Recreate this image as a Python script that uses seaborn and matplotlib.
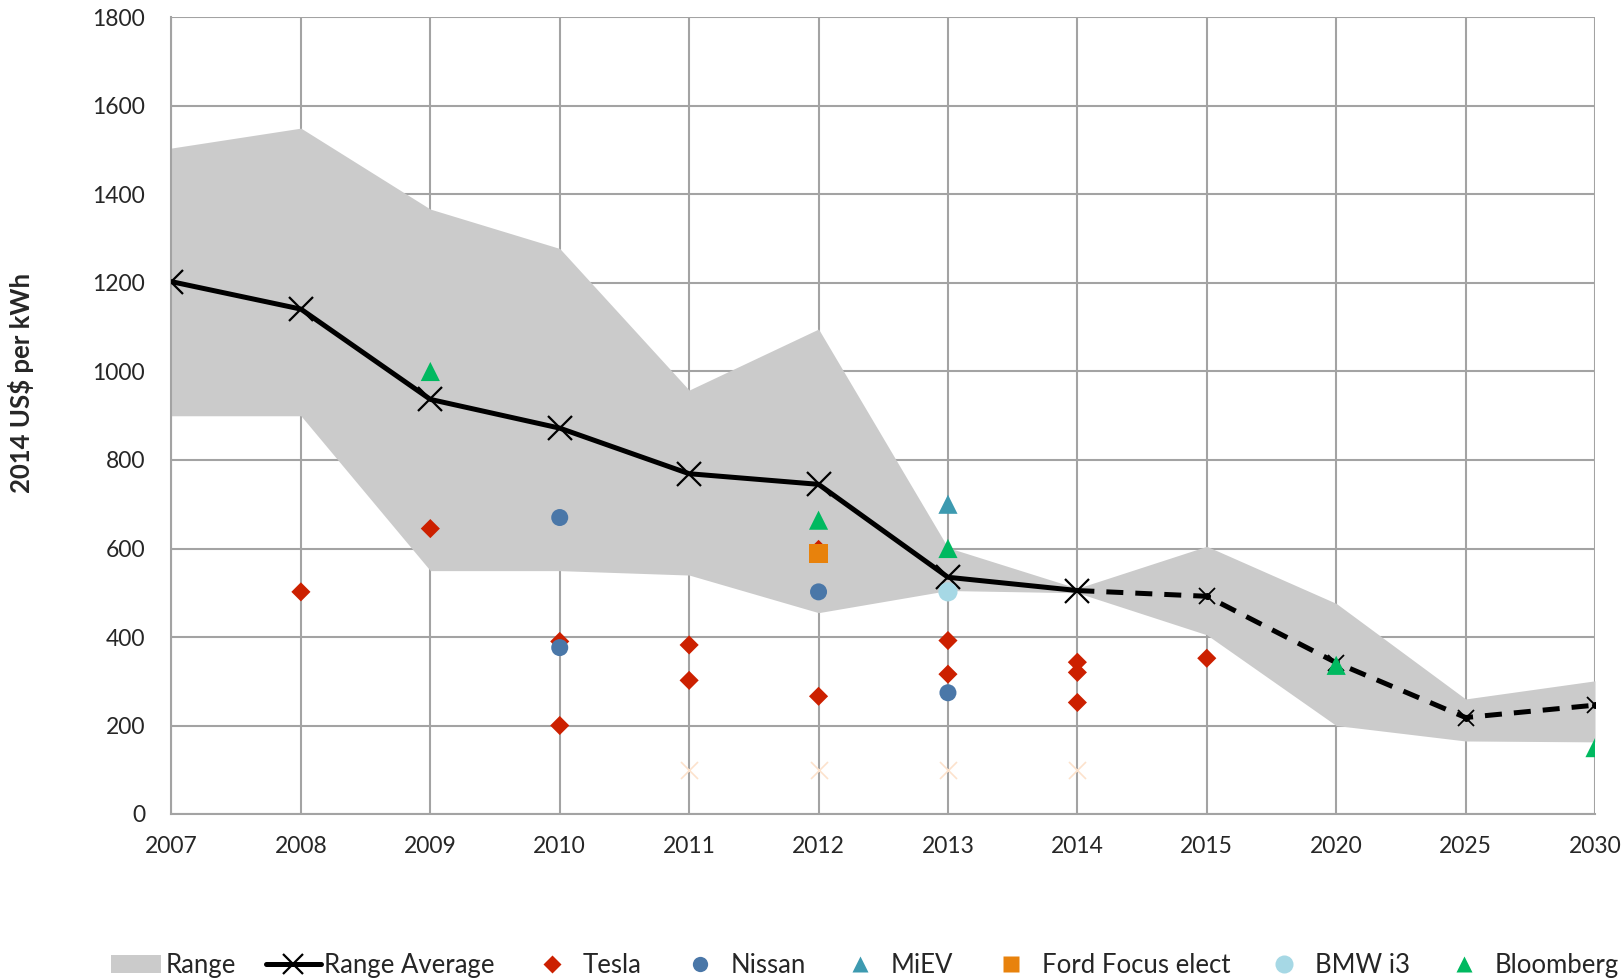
import numpy as np
import matplotlib
matplotlib.use("Agg")
import matplotlib.pyplot as plt
import seaborn as sns
from matplotlib.lines import Line2D
from matplotlib.patches import Patch

sns.set_style("whitegrid")
plt.rcParams["font.family"] = ["Lato", "DejaVu Sans"]

# ---- data ----
years = ["2007", "2008", "2009", "2010", "2011", "2012",
         "2013", "2014", "2015", "2020", "2025", "2030"]
range_low = [900, 900, 550, 550, 540, 455, 505, 500, 405, 200, 165, 163]
range_high = [1505, 1550, 1367, 1278, 958, 1096, 602, 510, 605, 476, 260, 301]

avg_hist_years = ["2007", "2008", "2009", "2010", "2011", "2012", "2013", "2014"]
avg_hist = [1203, 1141, 937, 872, 769, 745, 535, 505]
avg_proj_years = ["2014", "2015", "2020", "2025", "2030"]
avg_proj = [505, 492, 342, 218, 246]

tesla_years = ["2008", "2009", "2010", "2010", "2011", "2011", "2012", "2012",
               "2013", "2013", "2014", "2014", "2014", "2015"]
tesla_vals = [502, 645, 390, 200, 382, 302, 598, 266, 392, 316, 343, 320, 252, 352]

nissan_years = ["2010", "2010", "2012", "2013"]
nissan_vals = [670, 376, 502, 274]

miev_years = ["2013"]
miev_vals = [700]

ford_years = ["2012"]
ford_vals = [589]

bmw_years = ["2013"]
bmw_vals = [502]

bloomberg_years = ["2009", "2012", "2013", "2020", "2030"]
bloomberg_vals = [1000, 664, 600, 336, 150]

faint_years = ["2011", "2012", "2013", "2014"]
faint_vals = [100, 100, 100, 100]

COLORS = {
    "range": "#CBCBCB",
    "grid": "#A3A3A3",
    "tesla": "#CC2000",
    "nissan": "#4A77A8",
    "miev": "#3D9AB0",
    "ford": "#E8820C",
    "bmw": "#A6D8E5",
    "bloomberg": "#00B960",
    "faint": "#FCE2CC",
}

W, H = 1624, 980


def pos(labels):
    return [years.index(y) for y in labels]


fig = plt.figure(figsize=(W / 100, H / 100), dpi=100)
ax = fig.add_axes([171.5 / W, 1 - 814 / H, (1595 - 171.5) / W, (814 - 17.5) / H])

xs = np.arange(len(years))
ax.fill_between(xs, range_low, range_high, color=COLORS["range"], lw=0, zorder=1)

# faint hidden series
sns.scatterplot(x=pos(faint_years), y=faint_vals, ax=ax, marker="x", s=150,
                color=COLORS["faint"], linewidth=1.2, zorder=2)

# range average: solid actuals, dashed projection
sns.lineplot(x=pos(avg_hist_years), y=avg_hist, ax=ax, color="black", lw=3.6,
             marker="x", markersize=17, markeredgewidth=1.6,
             markeredgecolor="black", zorder=3)
sns.lineplot(x=pos(avg_proj_years), y=avg_proj, ax=ax, color="black", lw=3.6,
             linestyle=(0, (3.4, 2.4)), zorder=3)
ax.plot(pos(avg_proj_years[1:]), avg_proj[1:], ls="none", marker="x",
        ms=12, mew=1.3, color="black", zorder=3)
ax.plot(pos(avg_proj_years[1:]), avg_proj[1:], ls="none", marker="o",
        ms=4, color="black", zorder=3)

sns.scatterplot(x=pos(tesla_years), y=tesla_vals, ax=ax, marker="D", s=95,
                color=COLORS["tesla"], edgecolor="none", zorder=4)
sns.scatterplot(x=pos(nissan_years), y=nissan_vals, ax=ax, marker="o", s=150,
                color=COLORS["nissan"], edgecolor="none", zorder=4)
sns.scatterplot(x=pos(miev_years), y=miev_vals, ax=ax, marker="^", s=190,
                color=COLORS["miev"], edgecolor="none", zorder=4)
sns.scatterplot(x=pos(bloomberg_years), y=bloomberg_vals, ax=ax, marker="^", s=190,
                color=COLORS["bloomberg"], edgecolor="none", zorder=4)
sns.scatterplot(x=pos(ford_years), y=ford_vals, ax=ax, marker="s", s=190,
                color=COLORS["ford"], edgecolor="none", zorder=5)
sns.scatterplot(x=pos(bmw_years), y=bmw_vals, ax=ax, marker="o", s=190,
                color=COLORS["bmw"], edgecolor="none", zorder=5)

# axes styling
ax.set_xlim(0, len(years) - 1)
ax.set_ylim(0, 1800)
ax.set_xticks(xs)
ax.set_xticklabels(years)
ax.set_yticks(np.arange(0, 1801, 200))
ax.grid(True, color=COLORS["grid"], lw=1.5)
ax.set_axisbelow(True)
for side in ["top", "right"]:
    ax.spines[side].set_visible(False)
for side in ["left", "bottom"]:
    ax.spines[side].set_color(COLORS["grid"])
    ax.spines[side].set_linewidth(1.5)
ax.tick_params(axis="y", length=6, width=1.5, color=COLORS["grid"], pad=13, labelsize=16.5)
ax.tick_params(axis="x", length=6, width=1.5, color=COLORS["grid"], pad=10, labelsize=16.5)
ax.set_xlabel("")
ax.set_ylabel("")

fig.text(21 / W, 1 - 383 / H, "2014 US$ per kWh", rotation=90, va="center",
         ha="center", fontsize=18.5, fontweight="bold")

# legend, one entry at a time so the spacing follows the reference
FS = 18.5
fs_px = FS * 100 / 72
LEG_Y = 1 - 965 / H


def add_entry(handle, label, x_px, hlen, gap):
    fig.legend([handle], [label], loc="center left",
               bbox_to_anchor=(x_px / W, LEG_Y), frameon=False,
               prop={"size": FS}, borderpad=0, borderaxespad=0,
               handlelength=hlen, handletextpad=gap, handleheight=0.7)


add_entry(Patch(facecolor=COLORS["range"], edgecolor="none"), "Range", 111, 1.93, 0.21)
add_entry(Line2D([], [], color="black", lw=3.6, marker="x", ms=14, mew=1.6),
          "Range Average", 266, 2.14, 0.12)
marker_entries = [
    ("D", 9, COLORS["tesla"], "Tesla", 552),
    ("o", 11, COLORS["nissan"], "Nissan", 700),
    ("^", 12, COLORS["miev"], "MiEV", 860),
    ("s", 12, COLORS["ford"], "Ford Focus elect", 1011),
    ("o", 13, COLORS["bmw"], "BMW i3", 1284),
    ("^", 12, COLORS["bloomberg"], "Bloomberg", 1464),
]
for mk, ms, col, lab, cx in marker_entries:
    h = Line2D([], [], ls="none", marker=mk, ms=ms, color=col, mec="none")
    add_entry(h, lab, cx - 0.6 * fs_px, 1.2, 0.6)

fig.savefig("out.png", dpi=100, facecolor="white")
